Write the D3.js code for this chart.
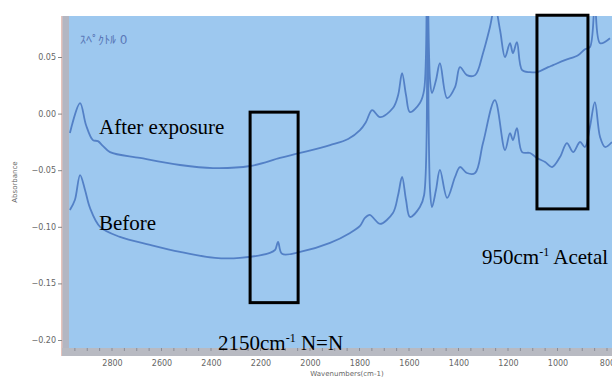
<html>
<head>
<script src="https://d3js.org/d3.v7.min.js"></script>
<style>
  body { margin: 0; background: #fff; }
  svg { display: block; }
</style>
</head>
<body>
<svg width="612" height="378"></svg>
<script>
// spectra (wavenumber in cm-1, absorbance)
var afterWn  = [2970, 2929, 2905, 2877, 2857, 2836, 2808, 2687, 2525, 2392, 2242, 2121, 2040, 1919, 1846, 1798, 1774, 1749, 1717, 1665, 1644, 1628, 1612, 1596, 1556, 1539, 1527, 1515, 1507, 1491, 1475, 1446, 1414, 1394, 1366, 1333, 1301, 1273, 1253, 1232, 1212, 1192, 1180, 1164, 1143, 1111, 1083, 1038, 1018, 970, 917, 889, 869, 849, 828, 788];
var afterAbs = [-0.0172, 0.0093, -0.0101, -0.0234, -0.0243, -0.0287, -0.0340, -0.0392, -0.0454, -0.0481, -0.0463, -0.0392, -0.0348, -0.0278, -0.0225, -0.0146, -0.0075, 0.0031, -0.0031, 0.0049, 0.0163, 0.0357, 0.0163, 0.0013, 0.0093, 0.0207, 0.14, 0.0295, 0.0181, 0.0295, 0.0445, 0.0137, 0.0234, 0.0410, 0.0340, 0.0340, 0.0534, 0.0763, 0.095, 0.0736, 0.0498, 0.0622, 0.0534, 0.0631, 0.0384, 0.0366, 0.0366, 0.0410, 0.0428, 0.0472, 0.0516, 0.0569, 0.0587, 0.095, 0.0622, 0.0666];

var beforeWn  = [2970, 2950, 2929, 2909, 2889, 2848, 2768, 2646, 2525, 2384, 2283, 2162, 2141, 2129, 2113, 2040, 1919, 1838, 1798, 1778, 1758, 1737, 1717, 1665, 1644, 1628, 1612, 1596, 1556, 1539, 1527, 1515, 1507, 1491, 1475, 1446, 1414, 1394, 1366, 1333, 1301, 1253, 1212, 1192, 1180, 1164, 1143, 1111, 1083, 1050, 1022, 990, 962, 937, 909, 889, 869, 849, 828, 808, 780];
var beforeAbs = [-0.0851, -0.0763, -0.0543, -0.0675, -0.0833, -0.1001, -0.1089, -0.1160, -0.1222, -0.1274, -0.1274, -0.1230, -0.1204, -0.1133, -0.1239, -0.1222, -0.1142, -0.1054, -0.0992, -0.0922, -0.0895, -0.0939, -0.0975, -0.0878, -0.0719, -0.0560, -0.0763, -0.0913, -0.0825, -0.0719, 0.14, -0.0675, -0.0825, -0.0675, -0.0498, -0.0745, -0.0560, -0.0472, -0.0525, -0.0525, -0.0260, 0.0119, -0.0322, -0.0172, -0.0234, -0.0128, -0.0340, -0.0348, -0.0392, -0.0428, -0.0472, -0.0384, -0.0260, -0.0340, -0.0251, -0.0295, -0.0119, 0.0101, -0.0207, -0.0295, -0.0251];

var xTicks = [2800, 2600, 2400, 2200, 2000, 1800, 1600, 1400, 1200, 1000, 800];
var yTicks = [0.05, 0.00, -0.05, -0.10, -0.15, -0.20];

// boxes drawn on the chart: [wavenumber from, to, absorbance top, bottom]
var boxN2 = [2242, 2048, 0.0013, -0.167];
var boxAcetal = [1083, 877, 0.0869, -0.0842];

var svg = d3.select("svg");
var pLeft = 68, pTop = 16, pRight = 612, pBottom = 348;

var x = d3.scaleLinear().domain([2800, 800]).range([112, 607]);
var y = d3.scaleLinear().domain([0.05, -0.20]).range([57, 340]);

// plot background
svg.append("rect")
    .attr("x", pLeft).attr("y", pTop)
    .attr("width", pRight - pLeft).attr("height", pBottom - pTop)
    .attr("fill", "#9dc8ef");

// gray frame strips
svg.append("rect").attr("x", 62).attr("y", pTop).attr("width", 7).attr("height", pBottom - pTop + 8).attr("fill", "#b3b6c2");
svg.append("rect").attr("x", 61).attr("y", pTop).attr("width", 1.5).attr("height", pBottom - pTop + 8).attr("fill", "#e6c4bd");
svg.append("rect").attr("x", 62).attr("y", pBottom).attr("width", pRight - 62).attr("height", 8).attr("fill", "#b8bac2");

// minor ticks in bottom band
svg.append("g")
    .selectAll("line")
    .data(d3.range(2950, 750, -50))
    .enter().append("line")
    .attr("x1", d => x(d)).attr("x2", d => x(d))
    .attr("y1", pBottom).attr("y2", pBottom + 3)
    .attr("stroke", "#8a8c96").attr("stroke-width", 1);

svg.append("defs").append("clipPath").attr("id", "clip")
    .append("rect").attr("x", pLeft).attr("y", pTop)
    .attr("width", pRight - pLeft).attr("height", pBottom - pTop);

var line = d3.line()
    .x(d => x(d[0]))
    .y(d => y(d[1]))
    .curve(d3.curveCatmullRom.alpha(0.5));

var series = [d3.zip(afterWn, afterAbs), d3.zip(beforeWn, beforeAbs)];

svg.append("g").attr("clip-path", "url(#clip)")
    .selectAll("path")
    .data(series)
    .enter().append("path")
    .attr("d", line)
    .attr("fill", "none")
    .attr("stroke", "#5380c6")
    .attr("stroke-width", 1.8)
    .attr("stroke-linejoin", "round");

// y axis
svg.append("g")
    .attr("transform", "translate(62,0)")
    .call(d3.axisLeft(y).tickValues(yTicks).tickFormat(d3.format(".2f")).tickSize(4))
    .call(g => g.select(".domain").remove())
    .call(g => g.selectAll("text").attr("font-size", 8).attr("fill", "#666").attr("font-family", "DejaVu Sans").attr("dx", 1))
    .call(g => g.selectAll("line").attr("stroke", "#888"));

// x axis labels
svg.append("g")
    .attr("transform", "translate(0," + (pBottom + 8) + ")")
    .call(d3.axisBottom(x).tickValues(xTicks).tickFormat(d3.format("d")).tickSize(0).tickPadding(4))
    .call(g => g.select(".domain").remove())
    .call(g => g.selectAll("text").attr("font-size", 8).attr("fill", "#666").attr("font-family", "DejaVu Sans"));

svg.append("text")
    .attr("x", 347).attr("y", 376)
    .attr("text-anchor", "middle")
    .attr("font-size", 7).attr("font-family", "DejaVu Sans").attr("fill", "#666")
    .text("Wavenumbers(cm-1)");

svg.append("text")
    .attr("transform", "translate(17,182) rotate(-90)")
    .attr("text-anchor", "middle")
    .attr("font-size", 7).attr("font-family", "DejaVu Sans").attr("fill", "#666")
    .text("Absorbance");

svg.append("text")
    .attr("x", 80).attr("y", 44)
    .attr("font-size", 12).attr("font-family", "DejaVu Sans").attr("fill", "#5a78b8")
    .text("ｽﾍﾟｸﾄﾙ 0");

// annotation boxes
[boxN2, boxAcetal].forEach(function(b) {
    svg.append("rect")
        .attr("x", x(b[0])).attr("y", y(b[2]))
        .attr("width", x(b[1]) - x(b[0])).attr("height", y(b[3]) - y(b[2]))
        .attr("fill", "none").attr("stroke", "#000").attr("stroke-width", 3);
});

// labels
var serif = "Liberation Serif";
svg.append("text").attr("x", 99).attr("y", 134).attr("font-size", 21).attr("font-family", serif).text("After exposure");
svg.append("text").attr("x", 99).attr("y", 230).attr("font-size", 21).attr("font-family", serif).text("Before");

function waveLabel(xp, yp, num, rest) {
    var t = svg.append("text").attr("x", xp).attr("y", yp).attr("font-size", 21).attr("font-family", serif);
    t.append("tspan").text(num + "cm");
    t.append("tspan").attr("font-size", 12).attr("dy", -8).text("-1");
    t.append("tspan").attr("dy", 8).text(" " + rest);
}
waveLabel(218, 350, "2150", "N=N");
waveLabel(482, 264, "950", "Acetal");
</script>
</body>
</html>
